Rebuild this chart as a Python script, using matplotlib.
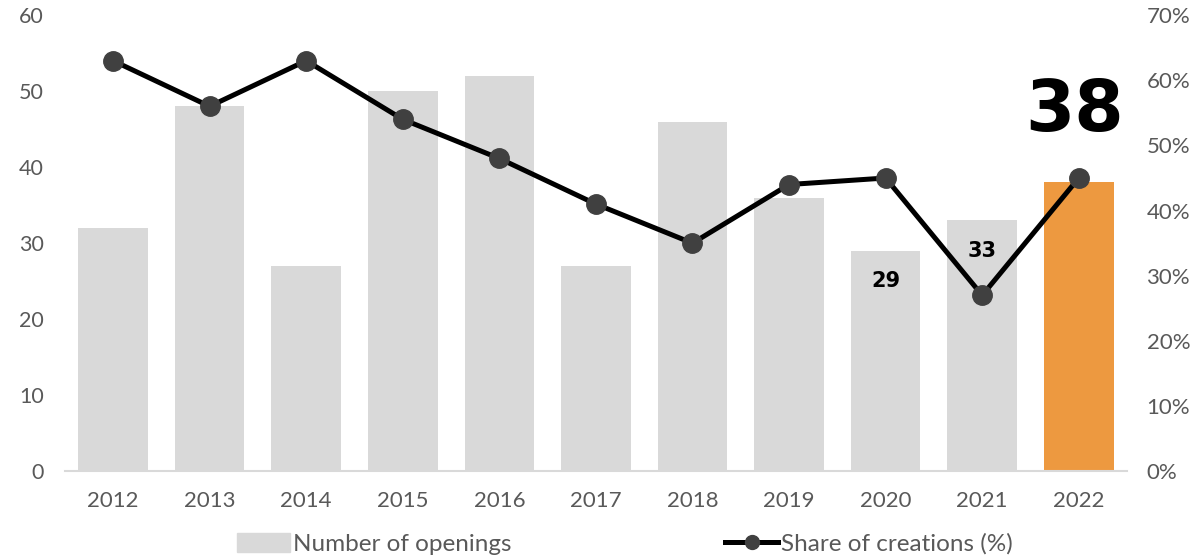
import matplotlib.pyplot as plt
from matplotlib.ticker import FuncFormatter

plt.rcParams['font.family'] = ['Lato', 'DejaVu Sans']

# data
years = ["2012", "2013", "2014", "2015", "2016", "2017", "2018", "2019", "2020", "2021", "2022"]
openings = [32, 48, 27, 50, 52, 27, 46, 36, 29, 33, 38]
share_pct = [63, 56, 63, 54, 48, 41, 35, 44, 45, 27, 45]

label_small = {"2020": 29, "2021": 33}
label_big = {"2022": 38}

grey_txt = "#595959"
bar_grey = "#d9d9d9"
orange = "#ed9940"

fig = plt.figure(figsize=(11.99, 5.59), dpi=100)
ax = fig.add_axes([0.054, 0.157, 0.886, 0.816])
ax2 = ax.twinx()

x = list(range(len(years)))
colors = [orange if y == "2022" else bar_grey for y in years]
ax.bar(x, openings, width=0.72, color=colors, zorder=1)

ax2.plot(x, share_pct, color="black", lw=3.6, marker="o", markersize=14,
         markerfacecolor="#404040", markeredgecolor="#404040", zorder=3)

# axes
ax.set_xlim(-0.5, len(years) - 0.5)
ax.set_ylim(0, 60)
ax.set_yticks(range(0, 61, 10))
ax2.set_ylim(0, 70)
ax2.set_yticks(range(0, 71, 10))
ax2.yaxis.set_major_formatter(FuncFormatter(lambda v, p: f"{int(v)}%"))
ax.set_xticks(x)
ax.set_xticklabels(years)

for a in (ax, ax2):
    for s in a.spines.values():
        s.set_visible(False)
    a.tick_params(length=0, labelsize=16, labelcolor=grey_txt)
ax.spines["bottom"].set_visible(True)
ax.spines["bottom"].set_color("#d9d9d9")
ax.spines["bottom"].set_linewidth(1.5)
ax.tick_params(axis="x", pad=14)
ax.tick_params(axis="y", labelsize=15.5, pad=15)
ax2.tick_params(axis="y", pad=14)

# annotations
num_font = ["DejaVu Sans"]
for yr, v in label_small.items():
    i = years.index(yr)
    ax.text(i, v - 4, str(v), ha="center", va="center", fontsize=15,
            fontweight="bold", family=num_font, color="black", zorder=5)
for yr, v in label_big.items():
    i = years.index(yr)
    ax.text(i - 0.04, v + 9.3, str(v), ha="center", va="center", fontsize=51,
            fontweight="bold", family=num_font, color="black", zorder=5)

# legend
h1 = plt.Rectangle((0, 0), 1, 1, color=bar_grey)
h2 = plt.Line2D([], [], color="black", lw=3.6, marker="o", markersize=10,
                markerfacecolor="#404040", markeredgecolor="#404040")
leg = fig.legend([h1, h2], ["Number of openings", "Share of creations (%)"],
                 loc="center", bbox_to_anchor=(0.521, 0.027), ncol=2, frameon=False,
                 prop={"size": 17.5}, labelcolor=grey_txt,
                 handlelength=2.2, handleheight=0.8,
                 handletextpad=0.1, columnspacing=8.8)

fig.savefig("out.png", dpi=100)
